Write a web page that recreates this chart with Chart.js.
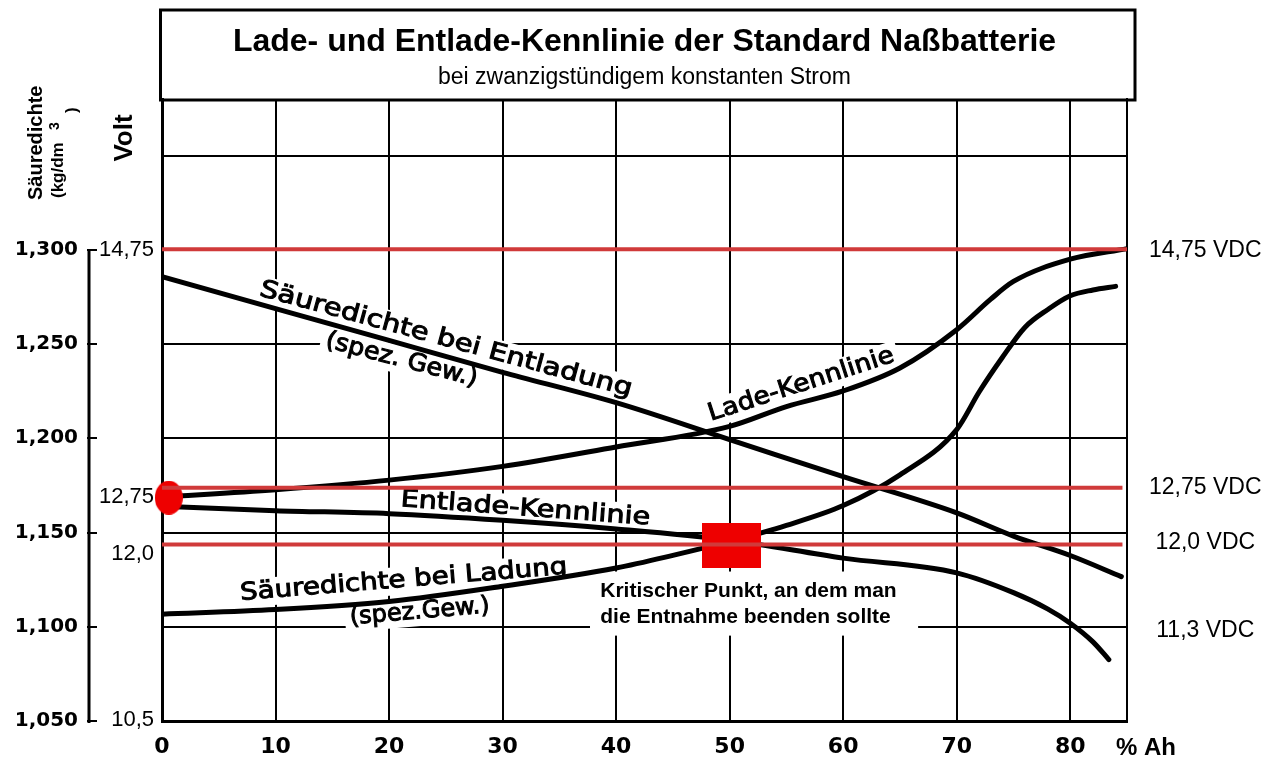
<!DOCTYPE html>
<html lang="de">
<head>
<meta charset="utf-8">
<title>Lade- und Entlade-Kennlinie der Standard Naßbatterie</title>
<script src="https://cdn.jsdelivr.net/npm/chart.js@4.4.1/dist/chart.umd.min.js"></script>
<style>
  html, body { margin: 0; padding: 0; background: #fff; }
  canvas { display: block; }
</style>
</head>
<body>
<canvas id="chart" width="1281" height="761"></canvas>
<script>
// Entnahme in % Ah
const ahTicks = [0, 10, 20, 30, 40, 50, 60, 70, 80]

// Säuredichte-Achse (kg/dm3)
const densityTicks = [1.05, 1.10, 1.15, 1.20, 1.25, 1.30, 1.35]
const densityLabels = ["1,050", "1,100", "1,150", "1,200", "1,250", "1,300", ""]

// Volt-Beschriftung links (Lage auf der Säuredichte-Skala)
const voltLevels = [1.300, 1.169, 1.1386, 1.0508]
const voltLabels = ["14,75", "12,75", "12,0", "10,5"]

// VDC-Beschriftung rechts
const vdcLevels = [1.2995, 1.1738, 1.1446, 1.098]
const vdcLabels = ["14,75 VDC", "12,75 VDC", "12,0 VDC", "11,3 VDC"]

// rote Spannungslinien 14,75 / 12,75 / 12,0 V
const redLevels = [1.3003, 1.1738, 1.1436]
const redEnds = [85, 84.6, 84.6]

// Säuredichte bei Entladung
const entlDichteX = [0, 10, 20, 30, 40, 50, 60, 70, 75, 80, 84.5]
const entlDichteY = [1.2857, 1.2688, 1.2519, 1.2350, 1.2189, 1.1993, 1.1796, 1.1604, 1.1481, 1.1378, 1.1266]

// Lade-Kennlinie
const ladeX = [0, 10, 20, 30, 40, 50, 55, 60, 65, 70, 73, 75, 80, 85]
const ladeY = [1.1688, 1.1727, 1.1778, 1.1851, 1.1954, 1.2063, 1.2168, 1.2251, 1.2373, 1.2576, 1.2738, 1.2832, 1.2950, 1.3006]

// Entlade-Kennlinie
const entladeX = [0, 10, 20, 30, 40, 50, 60, 70, 75, 78, 80, 82, 83.4]
const entladeY = [1.1640, 1.1616, 1.1600, 1.1565, 1.1519, 1.1459, 1.1364, 1.1286, 1.1181, 1.1095, 1.1019, 1.0920, 1.0826]

// Säuredichte bei Ladung
const ladDichteX = [0, 10, 20, 30, 40, 45, 50, 55, 60, 65, 70, 72, 74, 76, 78, 80, 82, 84]
const ladDichteY = [1.1067, 1.1091, 1.1134, 1.1215, 1.1312, 1.1379, 1.1453, 1.1538, 1.1643, 1.1806, 1.2046, 1.2248, 1.2427, 1.2588, 1.2682, 1.2756, 1.2787, 1.2806]

// rote Markierungen
const startMark = [{ x: 0.6, y: 1.1685 }]
const critMark = [{ x: 50.2, y: 1.1433 }]

// Beschriftungen an den Kurven (handschriftlich im Original)
const curveNotes = [
  { text: "Säuredichte bei Entladung", x: 25.0, y: 1.2523, angle: 15.2, len: 385 },
  { text: "(spez. Gew.)", x: 21.1, y: 1.2414, angle: 14.6, len: 156 },
  { text: "Lade-Kennlinie", x: 56.3, y: 1.2283, angle: -17.9, len: 194 },
  { text: "Entlade-Kennlinie", x: 32.0, y: 1.1624, angle: 4.25, len: 250 },
  { text: "Säuredichte bei Ladung", x: 21.3, y: 1.1245, angle: -4.6, len: 328 },
  { text: "(spez.Gew.)", x: 22.7, y: 1.1078, angle: -4.85, len: 140 },
]

const critText = ["Kritischer Punkt, an dem man", "die Entnahme beenden sollte"]
const critPos = { x: 38.6, y: 1.1160, x0: 37.7, x1: 66.6, y0: 1.1293, y1: 1.0953 }

function toPoints(xs, ys) {
  return xs.map((x, i) => ({ x: x, y: ys[i] }))
}

function makeMarker(w, h, round) {
  const c = document.createElement("canvas")
  c.width = w
  c.height = h
  const g = c.getContext("2d")
  g.fillStyle = "#ee0000"
  if (round) {
    g.beginPath()
    g.ellipse(w / 2, h / 2, w / 2, h / 2, 0, 0, Math.PI * 2)
    g.fill()
  } else {
    g.fillRect(0, 0, w, h)
  }
  return c
}

document.addEventListener("DOMContentLoaded", () => {
  Chart.defaults.font.family = "'Liberation Sans', Arial, sans-serif"
  Chart.defaults.color = "#000"

  const curve = (label, xs, ys) => ({
    label: label,
    data: toPoints(xs, ys),
    borderColor: "#000",
    borderWidth: 5,
    borderCapStyle: "round",
    pointRadius: 0,
    cubicInterpolationMode: "monotone",
    order: 3,
  })

  const redLines = redLevels.map((lvl, i) => ({
    label: "rot " + i,
    data: [{ x: 0, y: lvl }, { x: redEnds[i], y: lvl }],
    borderColor: "#d03a3a",
    borderWidth: 4,
    pointRadius: 0,
    order: 1,
  }))

  const paper = {
    id: "paper",
    beforeDraw(chart) {
      const { ctx, chartArea } = chart
      ctx.save()
      ctx.fillStyle = "#fff"
      ctx.fillRect(0, 0, chart.width, chart.height)
      // Titelkasten
      ctx.strokeStyle = "#000"
      ctx.lineWidth = 3
      const left = chartArea.left - 1.5
      const right = chartArea.right + 8
      ctx.strokeRect(left, 10, right - left, chartArea.top - 9)
      ctx.restore()
    },
    beforeDatasetsDraw(chart) {
      const { ctx } = chart
      const xs = chart.scales.x
      const ys = chart.scales.y
      ctx.save()
      ctx.font = "24px 'DejaVu Sans'"
      // weisser Grund hinter den Beschriftungen
      ctx.fillStyle = "#fff"
      curveNotes.forEach((n) => {
        ctx.save()
        ctx.translate(xs.getPixelForValue(n.x), ys.getPixelForValue(n.y))
        ctx.rotate((n.angle * Math.PI) / 180)
        ctx.fillRect(-n.len / 2 - 5, -14, n.len + 10, 28)
        ctx.restore()
      })
      const bx0 = xs.getPixelForValue(critPos.x0)
      const bx1 = xs.getPixelForValue(critPos.x1)
      const by0 = ys.getPixelForValue(critPos.y0)
      const by1 = ys.getPixelForValue(critPos.y1)
      ctx.fillRect(bx0, by0, bx1 - bx0, by1 - by0)

      ctx.fillStyle = "#000"
      ctx.strokeStyle = "#000"
      ctx.lineWidth = 1
      ctx.textAlign = "center"
      ctx.textBaseline = "middle"
      curveNotes.forEach((n) => {
        ctx.save()
        ctx.translate(xs.getPixelForValue(n.x), ys.getPixelForValue(n.y))
        ctx.rotate((n.angle * Math.PI) / 180)
        const w = ctx.measureText(n.text).width
        ctx.scale(n.len / w, 1)
        ctx.fillText(n.text, 0, 0)
        ctx.strokeText(n.text, 0, 0)
        ctx.restore()
      })

      ctx.font = "bold 21px 'Liberation Sans', Arial, sans-serif"
      ctx.textAlign = "left"
      ctx.textBaseline = "alphabetic"
      const tx = xs.getPixelForValue(critPos.x)
      const ty = ys.getPixelForValue(critPos.y)
      critText.forEach((line, i) => ctx.fillText(line, tx, ty + i * 26))
      ctx.restore()
    },
    afterDraw(chart) {
      const { ctx } = chart
      const xs = chart.scales.x
      const ys = chart.scales.y
      ctx.save()
      ctx.fillStyle = "#000"
      ctx.strokeStyle = "#000"

      // Achslinie der Säuredichte
      ctx.lineWidth = 3
      ctx.beginPath()
      ctx.moveTo(ys.right - 8, ys.getPixelForValue(densityTicks[5]))
      ctx.lineTo(ys.right - 8, ys.getPixelForValue(densityTicks[0]) + 2)
      ctx.stroke()

      // Einheit der x-Achse
      ctx.font = "bold 24px 'Liberation Sans', Arial, sans-serif"
      ctx.textAlign = "left"
      ctx.textBaseline = "middle"
      ctx.fillText("% Ah", xs.getPixelForValue(85) - 11, 748)

      // senkrechte Achstitel
      const vtext = (text, x, y, font, align) => {
        ctx.save()
        ctx.translate(x, y)
        ctx.rotate(-Math.PI / 2)
        ctx.font = font
        ctx.textAlign = align
        ctx.textBaseline = "middle"
        ctx.fillText(text, 0, 0)
        ctx.restore()
      }
      vtext("Säuredichte", 36, 200, "bold 20px 'Liberation Sans', Arial, sans-serif", "left")
      vtext("(kg/dm", 58, 198, "bold 17px 'Liberation Sans', Arial, sans-serif", "left")
      vtext("3", 55, 130, "bold 14px 'Liberation Sans', Arial, sans-serif", "left")
      vtext(")", 72, 113, "bold 17px 'Liberation Sans', Arial, sans-serif", "left")
      vtext("Volt", 125, 138, "bold 26px 'Liberation Sans', Arial, sans-serif", "center")
      ctx.restore()
    },
  }

  const levelTicks = (levels) => (scale) => {
    scale.ticks = levels.map((v) => ({ value: v }))
  }

  const ctx = document.getElementById("chart").getContext("2d")
  new Chart(ctx, {
    type: "line",
    data: {
      datasets: [
        curve("Säuredichte bei Entladung", entlDichteX, entlDichteY),
        curve("Lade-Kennlinie", ladeX, ladeY),
        curve("Entlade-Kennlinie", entladeX, entladeY),
        curve("Säuredichte bei Ladung", ladDichteX, ladDichteY),
        {
          label: "Ladeschluss",
          data: startMark,
          showLine: false,
          pointStyle: makeMarker(28, 34, true),
          clip: false,
          order: 2,
        },
        {
          label: "Kritischer Punkt",
          data: critMark,
          showLine: false,
          pointStyle: makeMarker(59, 45, false),
          clip: false,
          order: 2,
        },
        ...redLines,
      ],
    },
    options: {
      responsive: false,
      animation: false,
      layout: { padding: 0 },
      plugins: {
        legend: { display: false },
        tooltip: { enabled: false },
        title: {
          display: true,
          fullSize: false,
          text: "Lade- und Entlade-Kennlinie der Standard Naßbatterie",
          color: "#000",
          font: { size: 32, weight: "bold" },
          padding: { top: 23, bottom: 0 },
        },
        subtitle: {
          display: true,
          fullSize: false,
          text: "bei zwanzigstündigem konstanten Strom",
          color: "#000",
          font: { size: 23, weight: "normal" },
          padding: { top: 2, bottom: 8 },
        },
      },
      scales: {
        x: {
          type: "linear",
          min: 0,
          max: 85,
          afterBuildTicks: levelTicks(ahTicks),
          afterFit: (s) => { s.height = 40 },
          grid: { color: "#000", lineWidth: 2, drawTicks: false },
          border: { color: "#000", width: 3 },
          ticks: {
            color: "#000",
            padding: 13,
            maxRotation: 0,
            font: { family: "'DejaVu Sans'", size: 22, weight: "bold" },
          },
        },
        y: {
          type: "linear",
          position: "left",
          weight: 2,
          min: 1.05,
          max: 1.38,
          afterBuildTicks: levelTicks(densityTicks),
          afterFit: (s) => { s.width = 97 },
          grid: {
            color: "#000",
            lineWidth: 2,
            tickLength: 10,
            tickColor: (c) => (c.tick && c.tick.value > 1.31 ? "rgba(0,0,0,0)" : "#000"),
          },
          border: { display: false },
          ticks: {
            color: "#000",
            padding: 9,
            callback: (v, i) => densityLabels[i],
            font: { family: "'DejaVu Sans'", size: 20, weight: "bold" },
          },
        },
        volt: {
          type: "linear",
          position: "left",
          weight: 1,
          min: 1.05,
          max: 1.38,
          afterBuildTicks: levelTicks(voltLevels),
          afterFit: (s) => { s.width = 65 },
          grid: { display: false, drawTicks: false },
          border: { color: "#000", width: 3 },
          ticks: {
            color: "#000",
            padding: 8,
            callback: (v, i) => voltLabels[i],
            font: { size: 22 },
          },
        },
        vdc: {
          type: "linear",
          position: "right",
          min: 1.05,
          max: 1.38,
          afterBuildTicks: levelTicks(vdcLevels),
          afterFit: (s) => { s.width = 154 },
          grid: { display: false, drawTicks: false },
          border: { color: "#000", width: 2 },
          ticks: {
            color: "#000",
            padding: 22,
            crossAlign: "center",
            callback: (v, i) => vdcLabels[i],
            font: { size: 23 },
          },
        },
      },
    },
    plugins: [paper],
  })
})
</script>
</body>
</html>
